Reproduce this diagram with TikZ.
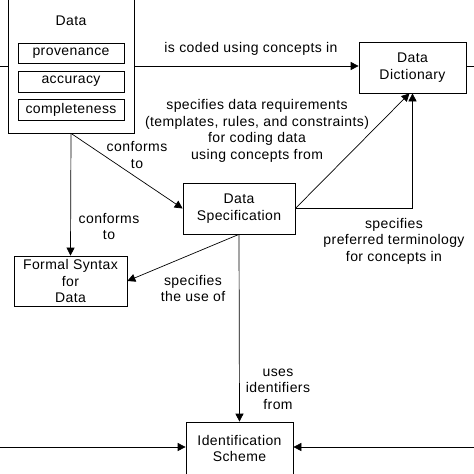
\documentclass[tikz,border=0pt]{standalone}
\usepackage{fontspec}
\setmainfont{Liberation Sans}[LetterSpace=3]
\usetikzlibrary{arrows.meta}
\tikzset{
  box/.style={draw, line width=0.7pt, inner sep=0pt},
  lbl/.style={align=center, inner sep=0pt, font=\fontsize{14}{16.5}\selectfont},
  conn/.style={line width=0.7pt, -{Triangle[length=8pt,width=8pt]}},
  plain/.style={line width=0.7pt}
}
\begin{document}
\begin{tikzpicture}[x=1pt,y=-1pt]
\useasboundingbox (0,0) rectangle (474,474);
\clip (0,0) rectangle (474,474);
% boxes
\node[box, minimum width=126pt, minimum height=163pt] (data) at (71,51.5) {};
\node[lbl] (datat) at (71,21) {Data};
\node[box, lbl, minimum width=106pt, minimum height=20pt] (prov) at (71,53) {provenance};
\node[box, lbl, minimum width=106pt, minimum height=21pt] (acc) at (71,81.5) {accuracy};
\node[box, lbl, minimum width=106pt, minimum height=21pt] (comp) at (71,109.5) {completeness};
\node[box, lbl, minimum width=107pt, minimum height=51pt] (dd) at (412.5,67.5) {Data\\Dictionary};
\node[box, lbl, minimum width=112pt, minimum height=51pt] (ds) at (239,208.5) {Data\\Specification};
\node[box, lbl, minimum width=113pt, minimum height=50pt] (fs) at (70.5,281) {Formal Syntax\\for\\Data};
\node[box, minimum width=107pt, minimum height=80pt] (is) at (239.5,462) {};
\node[lbl] (ist) at (239.5,448.5) {Identification\\Scheme};
% free ends
\coordinate (l1) at (0,66);
\coordinate (r1) at (474,66);
\coordinate (l2) at (0,447);
\coordinate (r2) at (474,447);
% connectors
\draw[plain] (l1) -- (l1 -| data.west);
\draw[conn] (data.east |- l1) -- (dd.west |- l1);
\draw[plain] (dd.east |- r1) -- (r1);
\draw[conn] (data.south) -- (fs.north);
\draw[conn] (data.south) -- (ds.west);
\draw[conn] (ds.east) -- ([xshift=-3pt]dd.south);
\draw[conn] (ds.east) -| (dd.south);
\draw[conn] (ds.south) -- (fs.east);
\draw[conn] (ds.south) -- (is.north);
\draw[conn] (l2) -- (l2 -| is.west);
\draw[conn] (r2) -- (r2 -| is.east);
% labels
\node[lbl] (t1) at (251,49) {is coded using concepts in};
\node[lbl] (t2) at (257,131) {specifies data requirements\\(templates, rules, and constraints)\\for coding data\\using concepts from};
\node[lbl] (t3) at (137,155) {conforms\\to};
\node[lbl] (t4) at (109,226.5) {conforms\\to};
\node[lbl] (t5) at (193,288.5) {specifies\\the use of};
\node[lbl] (t6) at (394,241) {specifies\\preferred terminology\\for concepts in};
\node[lbl] (t7) at (278,389) {uses\\identifiers\\from};
\end{tikzpicture}
\end{document}
